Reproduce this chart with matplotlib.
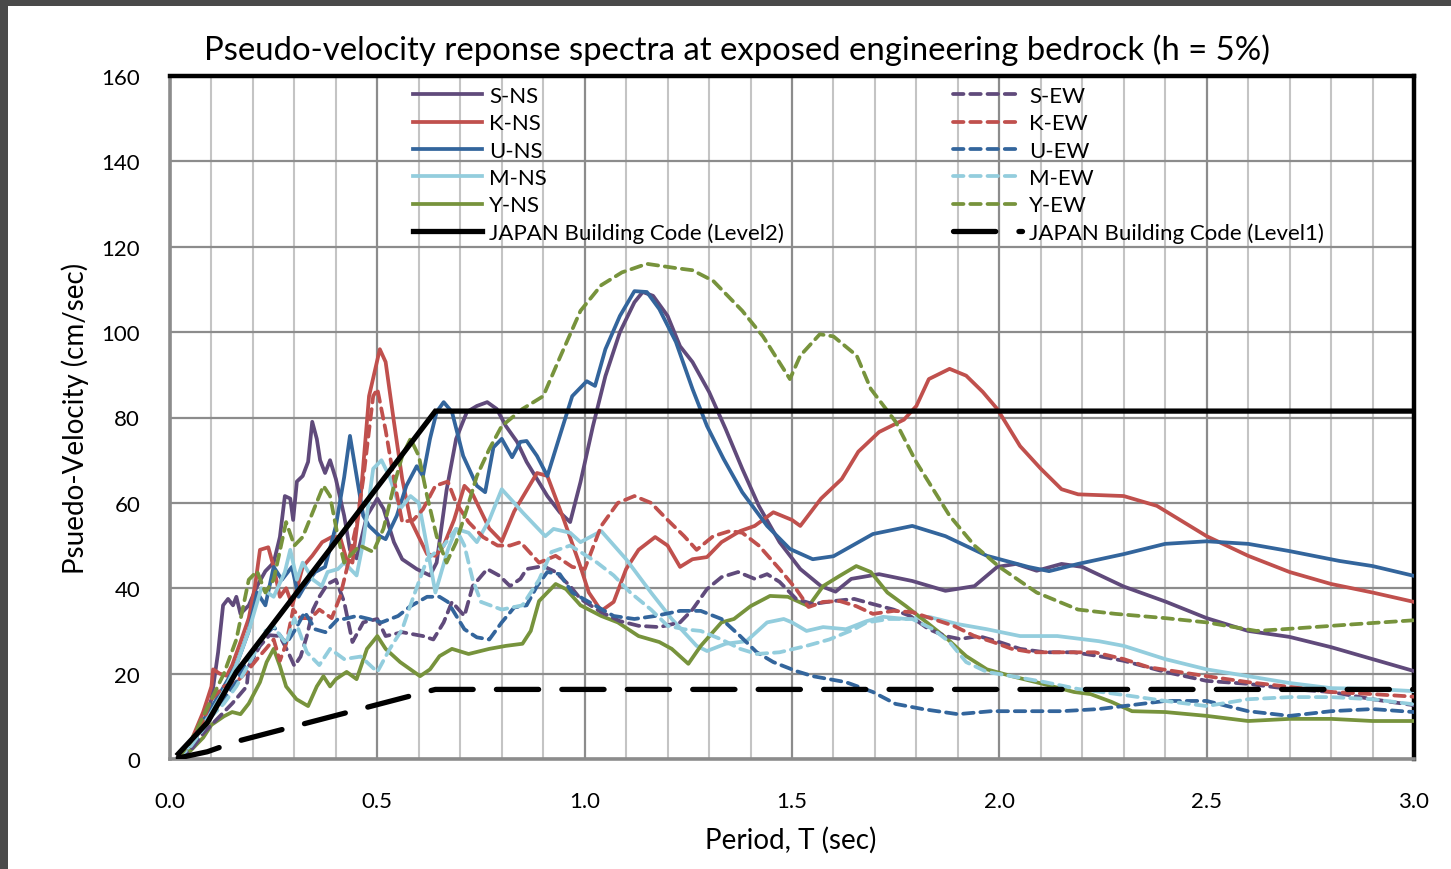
import matplotlib
matplotlib.use("Agg")
import matplotlib.pyplot as plt
from matplotlib.patches import Rectangle

plt.rcParams['font.family'] = ['Lato', 'DejaVu Sans']

# ---- spectra read per record: period T (sec), pseudo-velocity (cm/sec) ----
s_ns_t = [0.02, 0.05, 0.08, 0.10, 0.116, 0.128, 0.14, 0.152, 0.16, 0.17, 0.19, 0.21, 0.23, 0.25, 0.265,
          0.277, 0.29, 0.297, 0.306, 0.32, 0.333, 0.343, 0.354, 0.362, 0.374, 0.386, 0.40, 0.42, 0.434,
          0.45, 0.475, 0.50, 0.515, 0.54, 0.56, 0.595, 0.627, 0.643, 0.667, 0.69, 0.716, 0.74, 0.765,
          0.788, 0.81, 0.837, 0.86, 0.91, 0.94, 0.965, 0.99, 1.02, 1.05, 1.085, 1.12, 1.14, 1.165, 1.20,
          1.23, 1.26, 1.30, 1.34, 1.38, 1.42, 1.47, 1.52, 1.57, 1.605, 1.643, 1.71, 1.79, 1.87, 1.94,
          1.995, 2.04, 2.09, 2.15, 2.20, 2.30, 2.40, 2.50, 2.60, 2.70, 2.80, 2.90, 3.0]
s_ns_v = [0.5, 3, 8, 14, 25, 36, 37.5, 36, 38, 34, 36, 40.5, 44, 46, 52,
          61.6, 61, 56, 65, 66.3, 69.6, 79, 75, 70, 67, 70, 65.6, 57, 49,
          47, 57, 61, 58.6, 50.8, 46.8, 44.5, 43, 46, 63, 75, 81.3, 82.7, 83.6,
          82, 78, 74.3, 69.6, 61.6, 57.8, 55.5, 64.9, 78, 89.7, 100, 107, 109.4, 108.5, 103.8,
          96.7, 93, 86, 77.3, 68, 59.3, 50.8, 44.5, 40.5, 39.2, 42.2, 43.3, 41.7, 39.4, 40.5,
          45, 45.7, 44.1, 45.7, 45, 40.4, 36.9, 33, 30, 28.6, 26.2, 23.4, 20.6]

k_ns_t = [0.02, 0.05, 0.08, 0.10, 0.104, 0.12, 0.137, 0.15, 0.17, 0.19, 0.205, 0.217, 0.237, 0.25, 0.265,
          0.28, 0.295, 0.32, 0.343, 0.367, 0.39, 0.41, 0.425, 0.44, 0.46, 0.48, 0.506, 0.52, 0.54, 0.56,
          0.58, 0.595, 0.62, 0.64, 0.66, 0.685, 0.71, 0.73, 0.77, 0.80, 0.83, 0.885, 0.91, 0.95, 0.99,
          1.01, 1.04, 1.07, 1.10, 1.13, 1.17, 1.20, 1.23, 1.26, 1.295, 1.33, 1.375, 1.41, 1.455, 1.50,
          1.52, 1.57, 1.62, 1.66, 1.71, 1.77, 1.80, 1.83, 1.88, 1.92, 1.96, 1.995, 2.05, 2.10, 2.15,
          2.19, 2.30, 2.38, 2.50, 2.60, 2.70, 2.80, 2.90, 3.0]
k_ns_v = [0.5, 4, 11, 17, 21, 20, 19.5, 22, 27.4, 33, 40.5, 49, 49.6, 45, 38,
          40, 36, 45, 47.6, 50.8, 52, 52, 47, 46, 61.6, 85, 96, 93, 79, 65.6,
          56, 53, 48, 47.6, 50, 56, 64, 62, 54, 51, 58, 67, 66.3, 56, 45,
          39, 34.7, 36.8, 44.5, 49, 52, 50, 45, 46.8, 47.3, 50.8, 53.4, 54.6, 57.8, 56,
          54.6, 61, 65.6, 72, 76.6, 79.5, 82.7, 89, 91.4, 89.8, 86, 82, 73.3, 68, 63.2,
          62, 61.6, 59.3, 52.2, 47.6, 43.8, 41, 39, 36.8]

u_ns_t = [0.02, 0.05, 0.08, 0.10, 0.13, 0.16, 0.19, 0.21, 0.23, 0.25, 0.27, 0.294, 0.31, 0.325, 0.35,
          0.374, 0.40, 0.42, 0.434, 0.45, 0.466, 0.48, 0.506, 0.52, 0.547, 0.57, 0.595, 0.61, 0.627,
          0.643, 0.66, 0.68, 0.707, 0.74, 0.76, 0.78, 0.80, 0.825, 0.845, 0.86, 0.885, 0.91, 0.94, 0.97,
          1.005, 1.025, 1.05, 1.085, 1.12, 1.15, 1.18, 1.22, 1.26, 1.295, 1.335, 1.38, 1.44, 1.495,
          1.55, 1.60, 1.695, 1.79, 1.87, 1.97, 2.07, 2.12, 2.19, 2.30, 2.40, 2.50, 2.60, 2.70, 2.82,
          2.90, 3.0]
u_ns_v = [0.3, 3, 9, 12, 17, 22, 30, 39, 36, 45, 42, 45, 38, 40.5, 43.8,
          45, 54.6, 66, 75.7, 66.3, 57, 54.6, 52.2, 51.5, 57, 64, 68.6, 66.3, 75,
          81.3, 83.6, 81.3, 71, 64, 62.5, 73, 75, 70.7, 74.3, 74.5, 71, 66.3, 75.7, 85,
          88.5, 87.4, 96, 103.8, 109.6, 109.4, 105.4, 97.7, 86.7, 78, 70.3, 62.5, 54.6, 49.2,
          46.8, 47.5, 52.7, 54.6, 52.2, 47.6, 45, 44, 45.7, 48, 50.4, 51, 50.4, 48.7, 46.4,
          45.2, 42.9]

m_ns_t = [0.02, 0.05, 0.08, 0.10, 0.13, 0.16, 0.19, 0.22, 0.25, 0.277, 0.29, 0.306, 0.32, 0.345, 0.366,
          0.38, 0.405, 0.42, 0.45, 0.466, 0.49, 0.51, 0.53, 0.555, 0.58, 0.60, 0.627, 0.64, 0.67,
          0.69, 0.72, 0.74, 0.77, 0.80, 0.83, 0.85, 0.905, 0.925, 0.965, 0.99, 1.04, 1.10, 1.16, 1.21,
          1.27, 1.295, 1.34, 1.39, 1.44, 1.48, 1.50, 1.535, 1.575, 1.63, 1.68, 1.72, 1.775, 1.83, 1.90,
          1.97, 2.05, 2.14, 2.24, 2.30, 2.40, 2.50, 2.60, 2.70, 2.80, 2.90, 3.0]
m_ns_v = [0.3, 3, 8, 11, 16, 22, 30, 40, 38, 43.8, 49, 42, 46, 42, 40.5,
          43.8, 44.5, 46, 43, 50.8, 68, 70, 66, 58.6, 61.6, 60, 46, 39, 49,
          53.9, 53, 50.8, 56, 63.2, 60, 57.8, 52.2, 53.9, 53, 50.8, 53.4, 46.8, 39, 32.8,
          26.5, 25.3, 27, 27.6, 32, 32.8, 32, 30, 30.9, 30.4, 32.3, 33.3, 32.8, 33.3, 31.6,
          30.4, 28.8, 28.8, 27.6, 26.5, 23.4, 21, 19.4, 17.8, 16.6, 16.4, 15.9]

y_ns_t = [0.02, 0.05, 0.08, 0.10, 0.13, 0.15, 0.17, 0.19, 0.217, 0.233, 0.25, 0.265, 0.28, 0.305, 0.333,
          0.354, 0.37, 0.386, 0.40, 0.426, 0.45, 0.475, 0.50, 0.52, 0.555, 0.603, 0.627, 0.65, 0.68,
          0.72, 0.77, 0.81, 0.85, 0.87, 0.89, 0.93, 0.955, 0.99, 1.04, 1.08, 1.13, 1.18, 1.21, 1.25,
          1.28, 1.33, 1.36, 1.40, 1.447, 1.49, 1.54, 1.575, 1.615, 1.655, 1.69, 1.73, 1.775, 1.825,
          1.875, 1.92, 1.97, 2.03, 2.105, 2.18, 2.22, 2.27, 2.32, 2.40, 2.50, 2.60, 2.70, 2.80, 2.90, 3.0]
y_ns_v = [0.2, 2, 5, 8, 10, 11, 10.5, 13, 18, 22.7, 25.8, 21.8, 17, 14, 12.4,
          17, 19.4, 17, 18.7, 20.4, 18.7, 25.8, 28.8, 25.8, 22.7, 19.4, 21, 24.1, 25.8,
          24.6, 25.8, 26.5, 27, 30, 37, 41, 39.8, 36, 33.5, 32, 28.8, 27.4, 25.8, 22.3,
          26.5, 32, 32.8, 35.8, 38.2, 38, 35.8, 40.5, 42.9, 45.2, 43.8, 39, 35.8, 32,
          28.1, 24.1, 21, 19.4, 17.6, 15.7, 15.2, 13.4, 11.2, 11, 10.1, 8.9, 9.4, 9.4, 8.9, 8.9]

s_ew_t = [0.02, 0.05, 0.08, 0.10, 0.13, 0.15, 0.185, 0.19, 0.217, 0.24, 0.265, 0.285, 0.30, 0.315, 0.33,
          0.345, 0.36, 0.38, 0.40, 0.42, 0.44, 0.466, 0.50, 0.52, 0.56, 0.61, 0.635, 0.66, 0.68, 0.71,
          0.73, 0.765, 0.795, 0.82, 0.845, 0.86, 0.90, 0.93, 0.965, 0.99, 1.04, 1.085, 1.13, 1.18,
          1.23, 1.26, 1.295, 1.33, 1.37, 1.41, 1.44, 1.47, 1.51, 1.55, 1.60, 1.65, 1.695, 1.745,
          1.785, 1.83, 1.87, 1.905, 1.95, 2.0, 2.05, 2.11, 2.18, 2.24, 2.30, 2.40, 2.50, 2.60, 2.70,
          2.80, 2.90, 3.0]
s_ew_v = [0.2, 2, 6, 8, 11, 13, 17, 21.8, 26.5, 29, 28.8, 25, 21.8, 24, 28.8,
          35, 38, 41, 42, 36.8, 27.4, 32, 32.8, 28.8, 29.7, 28.8, 28, 32, 36.8, 33.5,
          40.5, 44.5, 42.9, 40.5, 42.2, 44.5, 45.2, 43.8, 40.5, 37.5, 34.4, 32.3, 31.2, 30.9,
          32, 35, 39.8, 42.6, 43.8, 42.2, 43.3, 41.5, 37.5, 36.3, 37, 37.5, 36.3, 35,
          33.5, 30.4, 28.8, 28.1, 28.8, 27.4, 25.8, 25, 25, 24.1, 23, 20.4, 18.3, 17.6, 16.4,
          15.7, 14, 12.6]

k_ew_t = [0.02, 0.05, 0.08, 0.10, 0.13, 0.16, 0.19, 0.215, 0.233, 0.25, 0.265, 0.28, 0.297, 0.315, 0.34,
          0.36, 0.39, 0.41, 0.43, 0.45, 0.466, 0.49, 0.50, 0.52, 0.54, 0.56, 0.587, 0.61, 0.64, 0.67,
          0.69, 0.72, 0.755, 0.79, 0.82, 0.845, 0.89, 0.93, 0.97, 1.0, 1.04, 1.08, 1.12, 1.16, 1.20,
          1.24, 1.27, 1.31, 1.35, 1.38, 1.42, 1.47, 1.51, 1.54, 1.575, 1.615, 1.655, 1.695, 1.745,
          1.79, 1.84, 1.89, 1.94, 1.985, 2.03, 2.08, 2.15, 2.23, 2.30, 2.36, 2.42, 2.50, 2.60, 2.70,
          2.80, 2.90, 3.0]
k_ew_v = [0.3, 3, 9, 14, 17, 18, 21, 24, 26, 28, 23, 27, 35, 33, 33,
          35, 33, 38, 46, 55, 65.6, 85, 86.7, 77, 65.6, 55.5, 56, 58.5, 64, 65,
          60, 55.5, 52, 50, 50, 50.8, 46, 47.6, 45, 44.5, 54.6, 60, 61.6, 60, 56,
          52.2, 49, 52.2, 53.4, 53, 50, 44.5, 39.8, 35.6, 36.8, 37, 35.8, 34, 34.7,
          34.4, 32.8, 31.2, 28.8, 27.4, 25.8, 25, 25, 25, 23.4, 21.5, 20.6, 19.4, 18, 16.9,
          15.7, 15.2, 14.6]

u_ew_t = [0.02, 0.05, 0.08, 0.10, 0.13, 0.16, 0.19, 0.22, 0.25, 0.28, 0.30, 0.325, 0.35, 0.375, 0.405,
          0.42, 0.45, 0.48, 0.51, 0.55, 0.58, 0.62, 0.65, 0.67, 0.71, 0.74, 0.77, 0.80, 0.83, 0.86,
          0.885, 0.91, 0.94, 0.97, 1.01, 1.07, 1.12, 1.17, 1.23, 1.28, 1.33, 1.375, 1.415, 1.455,
          1.51, 1.55, 1.63, 1.695, 1.75, 1.815, 1.90, 1.98, 2.06, 2.15, 2.24, 2.30, 2.40, 2.50, 2.60,
          2.70, 2.80, 2.90, 3.0]
u_ew_v = [0.2, 3, 7, 10, 14, 18, 24, 28, 31, 27, 30, 34.4, 30.4, 29.7, 32.8,
          32.8, 33.5, 32.8, 32, 33.5, 35.8, 38, 38, 36.8, 30.4, 28.5, 28, 32, 35.5, 36,
          40.5, 43.8, 43.3, 39, 36.8, 33.5, 32.8, 33.5, 34.7, 34.7, 32.8, 28.8, 25, 22.7,
          20.6, 19.4, 18, 15.7, 12.9, 11.7, 10.5, 11.2, 11.2, 11.2, 11.7, 12.4, 13.6, 13.6, 11.2,
          10.1, 11.2, 11.7, 11]

m_ew_t = [0.02, 0.05, 0.08, 0.10, 0.13, 0.16, 0.20, 0.23, 0.25, 0.28, 0.30, 0.33, 0.36, 0.386, 0.42,
          0.46, 0.50, 0.53, 0.56, 0.587, 0.62, 0.66, 0.69, 0.71, 0.73, 0.75, 0.80, 0.85, 0.89, 0.92,
          0.965, 0.99, 1.03, 1.07, 1.11, 1.16, 1.20, 1.24, 1.28, 1.33, 1.375, 1.415, 1.47, 1.535,
          1.59, 1.65, 1.68, 1.735, 1.79, 1.84, 1.88, 1.92, 1.97, 2.03, 2.11, 2.19, 2.30, 2.40, 2.50,
          2.60, 2.70, 2.80, 2.90, 3.0]
m_ew_v = [0.2, 3, 7, 10, 13, 17, 24, 30, 31, 27, 33, 25, 22, 25.8, 23.4,
          24, 20.4, 25.8, 30.4, 38, 46.8, 50, 53.9, 50, 42, 36.8, 35, 36, 42, 48.5,
          50, 48.5, 46, 43, 39, 35, 31.2, 30.4, 30, 28, 25.8, 24.6, 25, 26.5,
          28, 30.4, 32, 32.8, 32.8, 30.4, 27.4, 22.7, 20.4, 19.4, 18, 16.4, 15, 13.6, 12.4,
          14, 14.5, 14.5, 14, 12.8]

y_ew_t = [0.02, 0.05, 0.08, 0.10, 0.13, 0.16, 0.19, 0.21, 0.23, 0.25, 0.28, 0.30, 0.32, 0.345, 0.37,
          0.386, 0.405, 0.42, 0.434, 0.458, 0.49, 0.515, 0.54, 0.56, 0.58, 0.60, 0.62, 0.643, 0.667,
          0.69, 0.716, 0.74, 0.77, 0.80, 0.85, 0.90, 0.94, 0.99, 1.04, 1.09, 1.15, 1.22, 1.26, 1.31,
          1.38, 1.43, 1.495, 1.52, 1.567, 1.60, 1.656, 1.69, 1.75, 1.80, 1.88, 1.94, 2.0, 2.09, 2.19,
          2.28, 2.40, 2.50, 2.62, 2.70, 2.86, 3.0]
y_ew_v = [0.3, 4, 10, 14, 20, 28, 42, 44, 39, 42, 55.5, 50, 52, 58, 64,
          61.6, 52, 46, 47.6, 50, 48.5, 54, 64, 71, 75, 71, 61.6, 52.2, 46,
          50.8, 58.6, 66.3, 72.6, 78, 82, 85, 94, 105, 111, 114, 116, 115, 114.5, 112,
          105, 99, 89, 94.5, 99.5, 99, 94.5, 86.7, 79, 69.5, 57, 50, 45, 39, 35,
          34, 33, 32, 30, 30.5, 31.6, 32.5]

# building code spectra (breakpoints of the design curves)
lv2_t = [0.02, 0.09, 0.16, 0.64, 3.0]
lv2_v = [1.2, 8.5, 20.4, 81.5, 81.5]
lv1_t = [0.02, 0.09, 0.16, 0.64, 3.0]
lv1_v = [0.24, 1.7, 4.1, 16.3, 16.3]

PURPLE = '#604A7B'
RED = '#C0504D'
BLUE = '#33659C'
AQUA = '#93CDDD'
GREEN = '#77933C'

ns_series = [('S-NS', s_ns_t, s_ns_v, PURPLE), ('K-NS', k_ns_t, k_ns_v, RED),
             ('U-NS', u_ns_t, u_ns_v, BLUE), ('M-NS', m_ns_t, m_ns_v, AQUA),
             ('Y-NS', y_ns_t, y_ns_v, GREEN)]
ew_series = [('S-EW', s_ew_t, s_ew_v, PURPLE), ('K-EW', k_ew_t, k_ew_v, RED),
             ('U-EW', u_ew_t, u_ew_v, BLUE), ('M-EW', m_ew_t, m_ew_v, AQUA),
             ('Y-EW', y_ew_t, y_ew_v, GREEN)]

W, H = 1451, 870
fig = plt.figure(figsize=(W / 100, H / 100), dpi=100)
fig.patch.set_facecolor('white')
# dark slide frame along the top and left edge
fig.patches.append(Rectangle((0, 1 - 7 / H), 1, 7 / H, transform=fig.transFigure,
                             facecolor='#4A4A4A', edgecolor='none'))
fig.patches.append(Rectangle((0, 0), 8 / W, 1, transform=fig.transFigure,
                             facecolor='#4A4A4A', edgecolor='none'))

ax = fig.add_axes([170 / W, 1 - 760 / H, (1414 - 170) / W, (760 - 77) / H])

SOLID_LW = 2.7
EW_DASH = (2.8, 1.8)

ns_handles = []
ew_handles = []
for name, t, v, c in ns_series:
    ln, = ax.plot(t, v, color=c, lw=SOLID_LW, solid_joinstyle='round', label=name, zorder=3)
    ns_handles.append(ln)
for name, t, v, c in ew_series:
    ln, = ax.plot(t, v, color=c, lw=SOLID_LW, ls=(0, EW_DASH), dash_capstyle='round',
                  dash_joinstyle='round', label=name, zorder=3)
    ew_handles.append(ln)

lv2, = ax.plot(lv2_t, lv2_v, color='black', lw=3.8, solid_joinstyle='miter',
               label='JAPAN Building Code (Level2)', zorder=5)
lv1, = ax.plot(lv1_t, lv1_v, color='black', lw=3.8, ls=(0, (8, 4.4)), dash_capstyle='round',
               label='JAPAN Building Code (Level1)', zorder=5)
ns_handles.append(lv2)
ew_handles.append(lv1)

ax.set_xlim(0, 3.0)
ax.set_ylim(0, 160)
ax.set_xticks([0.0, 0.5, 1.0, 1.5, 2.0, 2.5, 3.0])
ax.set_xticks([i / 10 for i in range(31)], minor=True)
ax.set_yticks(range(0, 161, 20))
ax.set_xticklabels(['0.0', '0.5', '1.0', '1.5', '2.0', '2.5', '3.0'])
ax.tick_params(which='both', length=0)
ax.tick_params(axis='x', pad=23, labelsize=16)
ax.tick_params(axis='y', pad=21.5, labelsize=16)

ax.grid(which='minor', axis='x', color='#C4C4C4', lw=1.5, zorder=0)
ax.grid(which='major', axis='x', color='#8C8C8C', lw=1.6, zorder=0)
ax.grid(which='major', axis='y', color='#8C8C8C', lw=1.6, zorder=0)
ax.set_axisbelow(True)

for side in ('top', 'right'):
    ax.spines[side].set_color('black')
    ax.spines[side].set_linewidth(3.2)
for side in ('left', 'bottom'):
    ax.spines[side].set_color('#8C8C8C')
    ax.spines[side].set_linewidth(2.6)

fig.text(737 / W, 1 - 50 / H,
         'Pseudo-velocity reponse spectra at exposed engineering bedrock (h = 5%)',
         ha='center', va='center', fontsize=23.7)
fig.text(75 / W, 1 - 418 / H, 'Psuedo-Velocity (cm/sec)', rotation=90,
         ha='center', va='center', fontsize=20)
fig.text(791 / W, 1 - 840 / H, 'Period, T (sec)', ha='center', va='center', fontsize=20)

leg_kw = dict(loc='upper left', frameon=False, fontsize=16, borderpad=0, borderaxespad=0,
              handlelength=3.1, handletextpad=0.32, labelspacing=0.33)
leg1 = fig.legend(handles=ns_handles, bbox_to_anchor=(413 / W, 1 - 87 / H), **leg_kw)
leg2 = fig.legend(handles=ew_handles, bbox_to_anchor=(953 / W, 1 - 87 / H), **leg_kw)

fig.savefig('out.png', dpi=100)
